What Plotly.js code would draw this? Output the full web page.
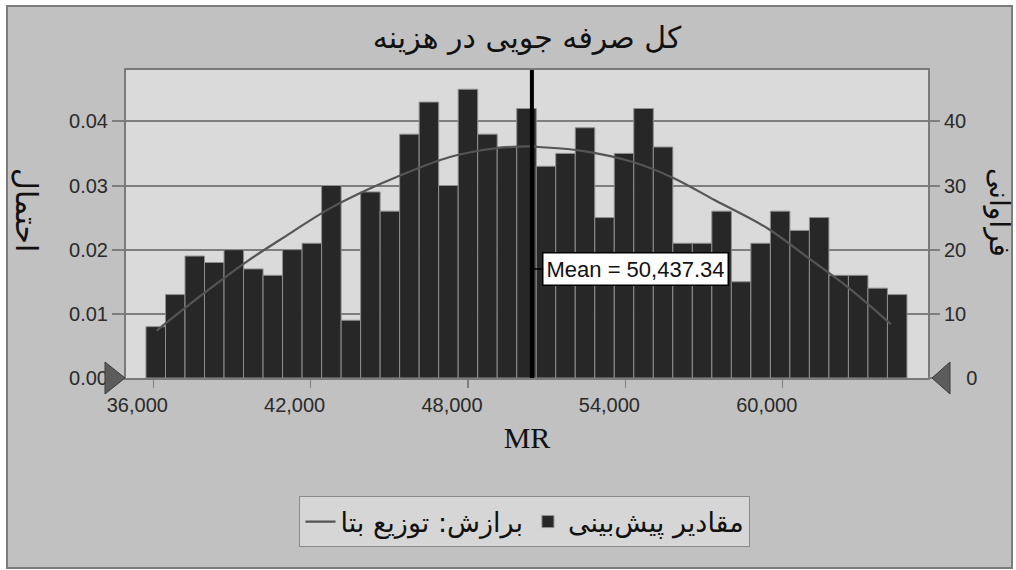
<!DOCTYPE html>
<html>
<head>
<meta charset="utf-8">
<script src="https://cdn.plot.ly/plotly-3.0.1.min.js"></script>
<style>
  html, body { margin: 0; padding: 0; background: #ffffff; }
  #frame { position: absolute; left: 6px; top: 5px; width: 1003px; height: 560px;
           background: #c1c1c1; border: 2px solid #7c7c7c; }
  #chart { position: absolute; left: 0; top: 0; width: 1016px; height: 570px; }
</style>
</head>
<body>
<div id="frame"></div>
<div id="chart"></div>
<script>
// ---- data ----
const titleText = "کل صرفه جویی در هزینه";
const xTitle = "MR";
const leftTitle = "احتمال";
const rightTitle = "فراوانی";
const barName = "مقادیر پیش\u200cبینی";
const curveName = "برازش: توزیع بتا";
const meanLabel = "Mean = 50,437.34";
const meanValue = 50437.34;

// frequency per bin (1000 trials)
const counts = [8, 13, 19, 18, 20, 17, 16, 20, 21, 30, 9, 29, 26, 38, 43, 30, 45, 38, 36, 42,
                33, 35, 39, 25, 35, 42, 36, 21, 21, 26, 15, 21, 26, 23, 25, 16, 16, 14, 13];
const binStart = 35722;
const binWidth = 744;

// fitted beta curve, read in frequency units
const curveX = [36130, 37900, 39550, 40820, 42720, 44240, 45260, 47280, 49060, 50320,
                50700, 52350, 54250, 55770, 57420, 59430, 60950, 62470, 64120];
const curveY = [7.4, 13.1, 18.1, 21.5, 26.4, 29.5, 31.3, 34.4, 35.8, 36.1,
                36.0, 35.4, 33.7, 31.3, 27.7, 23.3, 18.8, 14.2, 8.4];

const xTicks = [36000, 42000, 48000, 54000, 60000];
const probTicks = [0, 0.01, 0.02, 0.03, 0.04];
const countTicks = [0, 10, 20, 30, 40];
const countTickText = ["\u2007\u20070", "10", "20", "30", "40"];

// ---- build ----
const binCenters = counts.map((_, i) => binStart + (i + 0.5) * binWidth);

const gridCol = '#7e7e7e';
const tickFont = { family: 'Liberation Sans, Arial, sans-serif', size: 20, color: '#2a2a2a' };
const arabic = 'DejaVu Sans, Noto Sans, sans-serif';

const traces = [
  {
    type: 'scatter', mode: 'lines', name: curveName,
    x: curveX, y: curveY, yaxis: 'y2',
    line: { color: '#555555', width: 2.2, shape: 'spline', smoothing: 1 },
    hoverinfo: 'skip'
  },
  {
    type: 'bar', name: barName,
    x: binCenters, y: counts, yaxis: 'y2',
    width: binWidth,
    marker: { color: '#272727', line: { color: '#8e8e8e', width: 1 } },
    hoverinfo: 'skip'
  },
  {
    // carries the probability axis (left); invisible
    type: 'scatter', mode: 'markers', x: [meanValue], y: [probTicks[0]], yaxis: 'y',
    marker: { opacity: 0 }, showlegend: false, hoverinfo: 'skip'
  }
];

const layout = {
  width: 1016, height: 570,
  margin: { l: 126, r: 88, t: 70, b: 192 },
  paper_bgcolor: 'rgba(0,0,0,0)',
  plot_bgcolor: '#dadada',
  showlegend: true,
  bargap: 0,
  title: {
    text: titleText, x: 0.5, xref: 'paper', y: 0.935, yref: 'container', yanchor: 'middle',
    font: { family: arabic, size: 30, color: '#111111' }
  },
  xaxis: {
    range: [34960, 65540],
    tickvals: xTicks, tickformat: ',d',
    ticks: 'outside', ticklen: 8, tickwidth: 1.5, tickcolor: gridCol,
    ticklabelshift: -16,
    tickfont: tickFont,
    showgrid: false, zeroline: false,
    showline: true, mirror: true, linecolor: '#7a7a7a', linewidth: 2,
    title: { text: xTitle, standoff: 12,
             font: { family: 'Liberation Serif, Times New Roman, serif', size: 30, color: '#111111' } }
  },
  yaxis: {
    range: [0, 0.048],
    tickvals: probTicks, tickformat: '.2f',
    ticks: 'outside', ticklen: 12, tickwidth: 2, tickcolor: gridCol,
    tickfont: tickFont,
    showgrid: true, gridcolor: gridCol, gridwidth: 2,
    zeroline: false,
    showline: true, mirror: true, linecolor: '#7a7a7a', linewidth: 2
  },
  yaxis2: {
    range: [0, 48], overlaying: 'y', side: 'right',
    tickvals: countTicks, ticktext: countTickText,
    ticks: 'outside', ticklen: 11, tickwidth: 2, tickcolor: gridCol,
    tickfont: tickFont,
    showgrid: false, zeroline: false, showline: false
  },
  legend: {
    orientation: 'h', x: 0.4975, xanchor: 'center', y: -0.4675, yanchor: 'middle',
    bgcolor: '#d6d6d6', bordercolor: '#8a8a8a', borderwidth: 1,
    font: { family: arabic, size: 27, color: '#111111' },
    traceorder: 'normal'
  },
  shapes: [
    { type: 'line', xref: 'x', yref: 'paper', x0: meanValue, x1: meanValue, y0: 0, y1: 1,
      line: { color: '#000000', width: 4 }, layer: 'above' },
    { type: 'path', xref: 'paper', yref: 'paper', xsizemode: 'pixel', ysizemode: 'pixel',
      xanchor: 0, yanchor: 0, path: 'M -21 -16 L -1 0 L -21 16 Z',
      fillcolor: '#5c5c5c', line: { color: '#3c3c3c', width: 1 }, layer: 'above' },
    { type: 'path', xref: 'paper', yref: 'paper', xsizemode: 'pixel', ysizemode: 'pixel',
      xanchor: 1, yanchor: 0, path: 'M 22 -16 L 4 0 L 22 16 Z',
      fillcolor: '#5c5c5c', line: { color: '#3c3c3c', width: 1 }, layer: 'above' }
  ],
  annotations: [
    { x: meanValue, y: 17, xref: 'x', yref: 'y2', text: meanLabel,
      showarrow: true, arrowhead: 0, arrowwidth: 1.5, arrowcolor: '#000000',
      ax: 104, ay: 0, standoff: 0,
      bgcolor: '#ffffff', bordercolor: '#000000', borderwidth: 1.5, borderpad: 3,
      font: { family: 'Liberation Sans, Arial, sans-serif', size: 22, color: '#111111' } },
    { x: -0.1234, y: 0.545, xref: 'paper', yref: 'paper', text: leftTitle,
      showarrow: false, textangle: 90, xanchor: 'center', yanchor: 'middle',
      font: { family: arabic, size: 30, color: '#111111' } },
    { x: 1.0885, y: 0.536, xref: 'paper', yref: 'paper', text: rightTitle,
      showarrow: false, textangle: 90, xanchor: 'center', yanchor: 'middle',
      font: { family: arabic, size: 28, color: '#111111' } }
  ]
};

Plotly.newPlot('chart', traces, layout, { displayModeBar: false, staticPlot: true });
</script>
</body>
</html>
